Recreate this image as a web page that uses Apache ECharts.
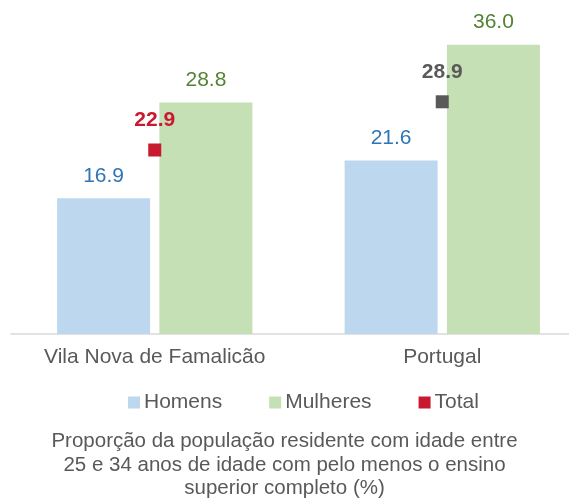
<!DOCTYPE html>
<html>
<head>
<meta charset="utf-8">
<script src="https://cdn.jsdelivr.net/npm/echarts@6/dist/echarts.min.js"></script>
<style>
  html, body { margin: 0; padding: 0; background: #fff; }
  #chart { width: 569px; height: 503px; }
</style>
</head>
<body>
<div id="chart"></div>
<script>
// Tertiary education attainment, residents aged 25-34 (%)
const categories = ['Vila Nova de Famalicão', 'Portugal'];
const homens = [16.9, 21.6];
const mulheres = [28.8, 36.0];
const total = [22.9, 28.9];
const totalColors = ['#C8192E', '#595959'];
const seriesNames = ['Homens', 'Mulheres', 'Total'];
const titleLines = [
  'Proporção da população residente com idade entre',
  '25 e 34 anos de idade com pelo menos o ensino',
  'superior completo (%)'
];

const FONT = '"Liberation Sans", Arial, sans-serif';
const TEXT = '#595959';

const chart = echarts.init(document.getElementById('chart'), null, { renderer: 'canvas' });

chart.setOption({
  animation: false,
  textStyle: { fontFamily: FONT },
  title: {
    text: titleLines.join('\n'),
    left: 'center',
    top: 425,
    textStyle: { fontFamily: FONT, fontSize: 20.5, fontWeight: 'normal', color: TEXT, lineHeight: 23.5 }
  },
  legend: {
    data: seriesNames,
    top: 387,
    left: 123,
    itemWidth: 12,
    itemHeight: 12,
    itemGap: 47,
    icon: 'rect',
    textStyle: { fontFamily: FONT, fontSize: 21, color: TEXT, padding: [0, 0, 0, -1] }
  },
  grid: { left: 11, right: -17, top: 12.6, height: 321.4, containLabel: false, outerBoundsMode: 'none' },
  xAxis: {
    type: 'category',
    data: categories,
    axisLine: { lineStyle: { color: '#D9D9D9', width: 1.5 } },
    axisTick: { show: false },
    axisLabel: {
      interval: 0, showMinLabel: true, showMaxLabel: true, hideOverlap: false,
      fontFamily: FONT, fontSize: 21, color: TEXT, margin: 13
    }
  },
  yAxis: {
    type: 'value',
    min: 0,
    max: 40,
    show: false,
    splitLine: { show: false }
  },
  series: [
    {
      name: seriesNames[0],
      type: 'bar',
      data: homens,
      barWidth: 93,
      barGap: '10%',
      itemStyle: { color: '#BDD7EE' },
      label: {
        show: true, position: 'top', distance: 12,
        formatter: p => p.value.toFixed(1),
        fontFamily: FONT, fontSize: 21, color: '#2E75B6'
      }
    },
    {
      name: seriesNames[1],
      type: 'bar',
      data: mulheres,
      barWidth: 93,
      barGap: '10%',
      itemStyle: { color: '#C5E0B4' },
      label: {
        show: true, position: 'top', distance: 12,
        formatter: p => p.value.toFixed(1),
        fontFamily: FONT, fontSize: 21, color: '#548235'
      }
    },
    {
      name: seriesNames[2],
      type: 'scatter',
      data: total.map((v, i) => ({
        value: v,
        itemStyle: { color: totalColors[i], opacity: 1 },
        label: { color: totalColors[i] }
      })),
      symbol: 'rect',
      symbolSize: 13,
      itemStyle: { color: totalColors[0], opacity: 1 },
      z: 5,
      label: {
        show: true, position: 'top', distance: 13,
        formatter: p => p.value.toFixed(1),
        fontFamily: FONT, fontSize: 21, fontWeight: 'bold'
      }
    }
  ]
});
</script>
</body>
</html>
